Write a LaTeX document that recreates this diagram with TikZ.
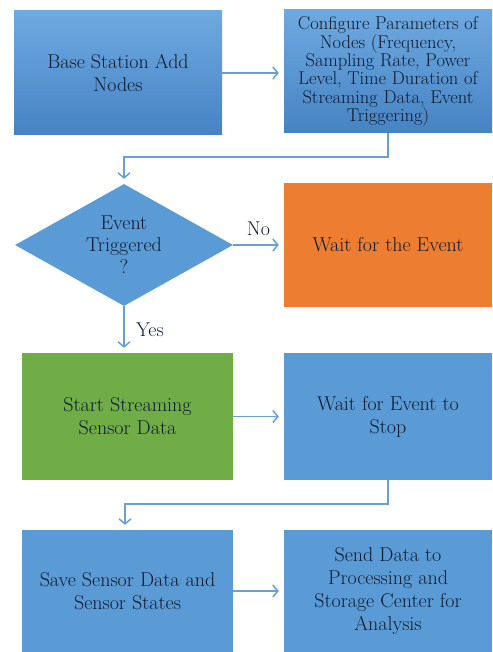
\documentclass[tikz,border=0pt]{standalone}
\usetikzlibrary{shapes.geometric,arrows.meta}

\definecolor{boxblue}{HTML}{5B9BD5}
\definecolor{boxtop}{HTML}{6EA9E0}
\definecolor{boxbot}{HTML}{4683C3}
\definecolor{boxgreen}{HTML}{70AD47}
\definecolor{boxorange}{HTML}{ED7D31}
\definecolor{inkdark}{HTML}{0E1A2E}
\definecolor{linkblue}{HTML}{6A9FD6}

\tikzset{
  stepbox/.style={rectangle, fill=boxblue, text=inkdark, align=center,
    inner sep=0pt, minimum width=208pt, minimum height=124pt,
    font=\fontsize{20}{23}\selectfont},
  shadebox/.style={stepbox, top color=boxtop, bottom color=boxbot},
  checkbox/.style={diamond, fill=boxblue, inner sep=0pt,
    minimum width=218pt, minimum height=122pt},
  link/.style={draw=linkblue, line width=1.5pt, shorten >=5pt,
    -{Straight Barb[length=5pt,width=12pt,line width=1.5pt]}},
  tag/.style={text=inkdark, align=center, font=\fontsize{20}{22}\selectfont}
}

\begin{document}
\begin{tikzpicture}[x=1pt,y=1pt]

  \useasboundingbox (0,0) rectangle (492,-652);

  % first row
  \node[shadebox] (base) at (118,-73) {Base Station Add\\Nodes};
  \node[shadebox, minimum height=123pt,
        font=\fontsize{18.5}{18.4}\selectfont] (config) at (388,-71.5)
    {Configure Parameters of\\Nodes (Frequency,\\Sampling Rate, Power\\
     Level, Time Duration of\\Streaming Data, Event\\Triggering)};

  % decision row
  \node[checkbox] (check) at (124,-245) {};
  \node[tag] (checktext) at (check.center) {Event\\Triggered\\?};
  \node[stepbox, fill=boxorange] (wait) at (388,-245) {Wait for the Event};

  % streaming row
  \node[stepbox, fill=boxgreen, minimum width=211pt, minimum height=127pt]
    (stream) at (127.5,-416.5) {Start Streaming\\Sensor Data};
  \node[stepbox, minimum height=127pt] (stop) at (388,-416.5)
    {Wait for Event to\\Stop};

  % last row, runs off the bottom edge
  \node[stepbox, minimum width=211pt, minimum height=122pt]
    (save) at (127.5,-591) {Save Sensor Data and\\Sensor States};
  \node[stepbox, minimum height=122pt] (send) at (388,-591)
    {Send Data to\\Processing and\\Storage Center for\\Analysis};

  % connectors
  \draw[link] (base.east) -- (base.east -| config.west);
  \draw[link] (config.south) -- ++(0,-24) -| (check.north);
  \draw[link] (check.east) -- node[tag, above=5pt]{No} (wait.west);
  \draw[link] (check.south) -- node[tag, right=8pt]{Yes} (check.south |- stream.north);
  \draw[link] (stream.east) -- (stop.west);
  \draw[link] (stop.south) -- ++(0,-24) -| ([xshift=-2.5pt]save.north);
  \draw[link] (save.east) -- (save.east -| send.west);

\end{tikzpicture}
\end{document}
